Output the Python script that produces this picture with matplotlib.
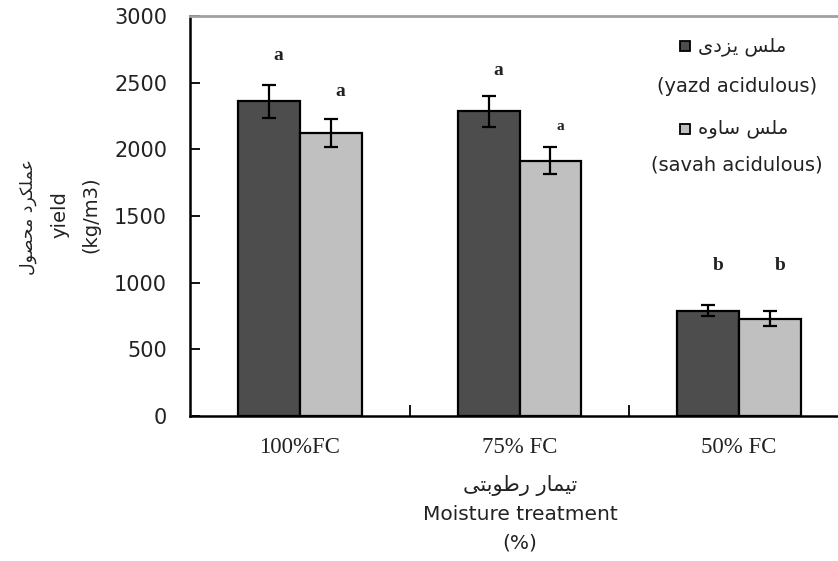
import matplotlib
matplotlib.use("Agg")
import matplotlib.pyplot as plt
from matplotlib.patches import Rectangle

# ---------------- data ----------------
categories = ["100%FC", "75% FC", "50% FC"]
yazd_values = [2360, 2285, 790]
yazd_errors = [125, 115, 40]
savah_values = [2125, 1915, 730]
savah_errors = [105, 100, 55]
yazd_letters = ["a", "a", "b"]
savah_letters = ["a", "a", "b"]
yazd_letter_y = [2700, 2590, 1130]
savah_letter_y = [2430, 2170, 1130]
yticks = [0, 500, 1000, 1500, 2000, 2500, 3000]

legend_fa = ["ملس یزدی", "ملس ساوه"]
legend_en = ["(yazd acidulous)", "(savah acidulous)"]
ylabel_fa = "عملکرد محصول"
ylabel_en = ["yield", "(kg/m3)"]
xlabel_fa = "تیمار رطوبتی"
xlabel_en = ["Moisture treatment", "(%)"]

# ------------- simple Arabic/Persian shaping (visual order) -------------
FORMS = {  # isolated, final, initial, medial
    'ا': ('\uFE8D', '\uFE8E', None, None),
    'ب': ('\uFE8F', '\uFE90', '\uFE91', '\uFE92'),
    'ت': ('\uFE95', '\uFE96', '\uFE97', '\uFE98'),
    'ح': ('\uFEA1', '\uFEA2', '\uFEA3', '\uFEA4'),
    'د': ('\uFEA9', '\uFEAA', None, None),
    'ر': ('\uFEAD', '\uFEAE', None, None),
    'ز': ('\uFEAF', '\uFEB0', None, None),
    'س': ('\uFEB1', '\uFEB2', '\uFEB3', '\uFEB4'),
    'ص': ('\uFEB9', '\uFEBA', '\uFEBB', '\uFEBC'),
    'ط': ('\uFEC1', '\uFEC2', '\uFEC3', '\uFEC4'),
    'ع': ('\uFEC9', '\uFECA', '\uFECB', '\uFECC'),
    'ل': ('\uFEDD', '\uFEDE', '\uFEDF', '\uFEE0'),
    'م': ('\uFEE1', '\uFEE2', '\uFEE3', '\uFEE4'),
    'ه': ('\uFEE9', '\uFEEA', '\uFEEB', '\uFEEC'),
    'و': ('\uFEED', '\uFEEE', None, None),
    'ی': ('\uFBFC', '\uFBFD', '\uFBFE', '\uFBFF'),
    'ک': ('\uFB8E', '\uFB8F', '\uFB90', '\uFB91'),
}


def shape(text):
    out = []
    n = len(text)
    for i, ch in enumerate(text):
        if ch not in FORMS:
            out.append(ch)
            continue
        f = FORMS[ch]
        prev = text[i - 1] if i > 0 else None
        nxt = text[i + 1] if i < n - 1 else None
        join_prev = prev in FORMS and FORMS[prev][2] is not None
        join_next = nxt in FORMS and f[2] is not None
        if join_prev and join_next:
            out.append(f[3])
        elif join_prev:
            out.append(f[1])
        elif join_next:
            out.append(f[2])
        else:
            out.append(f[0])
    return "".join(reversed(out))


# ---------------- figure ----------------
W, H = 838, 561
fig = plt.figure(figsize=(W / 100, H / 100), dpi=100)
ax = fig.add_axes([190 / W, (H - 416) / H, (849 - 190) / W, (416 - 16) / H])

dark = "#4d4d4d"
light = "#c0c0c0"
ink = "#222222"
bw = 0.282
x = list(range(len(categories)))
x_y = [i - bw / 2 for i in x]
x_s = [i + bw / 2 for i in x]

ax.bar(x_y, yazd_values, width=bw, color=dark, edgecolor="black", linewidth=1.6, zorder=2)
ax.bar(x_s, savah_values, width=bw, color=light, edgecolor="black", linewidth=1.6, zorder=2)
ax.errorbar(x_y, yazd_values, yerr=yazd_errors, fmt="none", ecolor="black",
            elinewidth=1.6, capsize=5, capthick=1.6, zorder=3)
ax.errorbar(x_s, savah_values, yerr=savah_errors, fmt="none", ecolor="black",
            elinewidth=1.6, capsize=5, capthick=1.6, zorder=3)

off = 0.045
for i in x:
    ax.text(x_y[i] + off, yazd_letter_y[i], yazd_letters[i], ha="center", va="center",
            fontsize=14, fontweight="bold", family="Liberation Serif", color=ink)
    fs = 11 if i == 1 else 14
    ax.text(x_s[i] + off, savah_letter_y[i], savah_letters[i], ha="center", va="center",
            fontsize=fs, fontweight="bold", family="Liberation Serif", color=ink)

ax.set_xlim(-0.5, 2.5)
ax.set_ylim(0, 3000)
ax.set_yticks(yticks)
ax.set_yticklabels([str(v) for v in yticks], fontsize=15, family="DejaVu Sans", color=ink)
ax.tick_params(axis="y", direction="in", length=7, width=1.3, pad=16.5)

ax.set_xticks([0.5, 1.5])
ax.set_xticklabels([])
ax.tick_params(axis="x", which="major", direction="in", length=8, width=1.3)
ax.set_xticks(x, minor=True)
ax.set_xticklabels(categories, minor=True, fontsize=16.5, family="Liberation Serif", color=ink)
ax.tick_params(axis="x", which="minor", length=0, pad=15)

ax.spines["left"].set_linewidth(1.8)
ax.spines["bottom"].set_linewidth(1.8)
ax.spines["top"].set_color("#a0a0a0")
ax.spines["top"].set_linewidth(2.0)
ax.spines["right"].set_visible(False)

# ---------------- y label (three rotated lines) ----------------
fig.text(28 / W, 1 - 217 / H, shape(ylabel_fa), rotation=90, ha="center", va="center",
         fontsize=12.5, family="DejaVu Sans", color=ink)
fig.text(60 / W, 1 - 215 / H, ylabel_en[0], rotation=90, ha="center", va="center",
         fontsize=14, family="DejaVu Sans", color=ink)
fig.text(91 / W, 1 - 215 / H, ylabel_en[1], rotation=90, ha="center", va="center",
         fontsize=14, family="DejaVu Sans", color=ink)

# ---------------- x label ----------------
xc = 520 / W
fig.text(xc, 1 - 485 / H, shape(xlabel_fa), ha="center", va="center",
         fontsize=15, family="DejaVu Sans", color=ink)
fig.text(xc, 1 - 515 / H, xlabel_en[0], ha="center", va="center",
         fontsize=14.5, family="DejaVu Sans", color=ink)
fig.text(xc, 1 - 543 / H, xlabel_en[1], ha="center", va="center",
         fontsize=14.5, family="DejaVu Sans", color=ink)

# ---------------- legend ----------------
legend_rows = [(46, 86), (129, 165)]
for (yf, ye), fa, en, col in zip(legend_rows, legend_fa, legend_en, [dark, light]):
    fig.add_artist(Rectangle((680 / W, 1 - (yf + 5) / H), 10 / W, 10 / H,
                             facecolor=col, edgecolor="black", linewidth=1.3,
                             transform=fig.transFigure))
    fig.text(698 / W, 1 - yf / H, shape(fa), ha="left", va="center",
             fontsize=14, family="DejaVu Sans", color=ink)
    fig.text(737 / W, 1 - ye / H, en, ha="center", va="center",
             fontsize=14, family="DejaVu Sans", color=ink)

fig.savefig("out.png", dpi=100)
